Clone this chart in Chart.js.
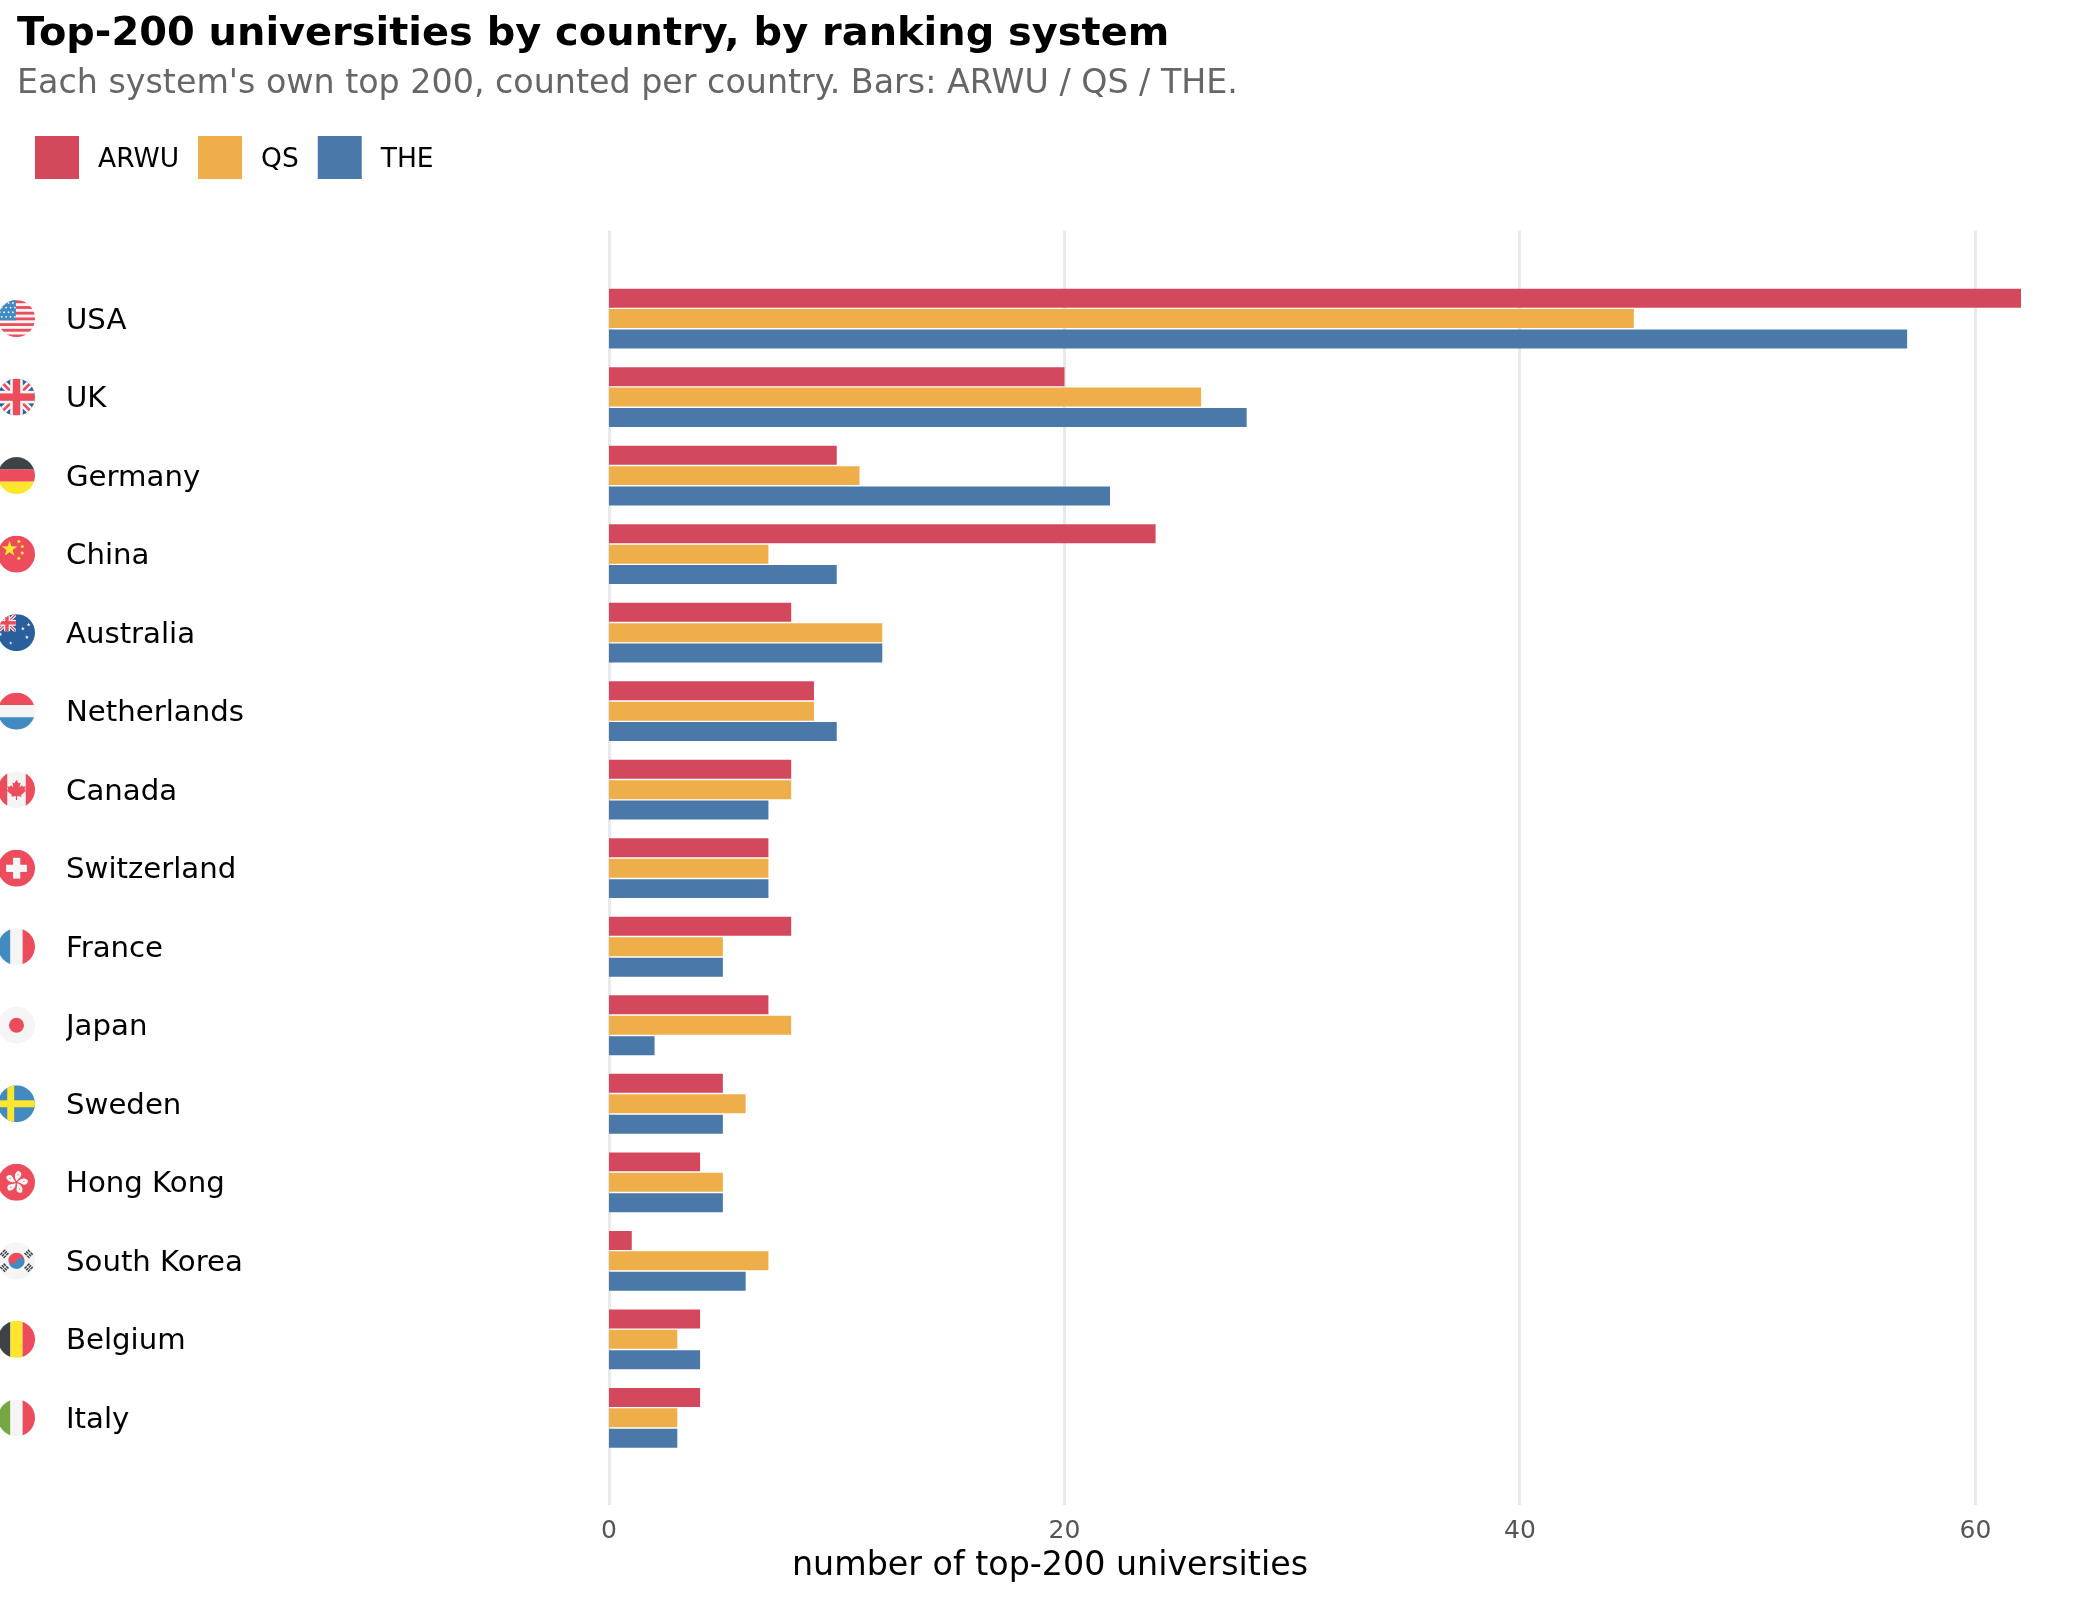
<!DOCTYPE html>
<html>
<head>
<meta charset="utf-8">
<style>html,body{margin:0;padding:0;background:#fff}canvas{display:block}</style>
<script src="https://cdn.jsdelivr.net/npm/chart.js@4/dist/chart.umd.min.js"></script>
</head>
<body>
<canvas id="c" width="2100" height="1600"></canvas>
<script>
const countries = ["USA","UK","Germany","China","Australia","Netherlands","Canada","Switzerland","France","Japan","Sweden","Hong Kong","South Korea","Belgium","Italy"];
const arwu = [62,20,10,24,8,9,8,7,8,7,5,4,1,4,4];
const qs   = [45,26,11,7,12,9,8,7,5,8,6,5,7,3,3];
const the  = [57,28,22,10,12,10,7,7,5,2,5,5,6,4,3];
const seriesNames = ["ARWU","QS","THE"];
const seriesColors = ["#d3485d","#eeae4a","#4978a9"];
const xTickStep = 20;

const FONT = '"DejaVu Sans", sans-serif';
Chart.defaults.font.family = FONT;
Chart.defaults.animation = false;

// Flag palette
const RED="#ed4c5c", WHT="#f5f5f5", BLU="#428bc1", NAVY="#2a5f9e", DRK="#3e4347", YEL="#ffe62e", GRN="#75a843";

// Helpers working in a 64×64 unit box
function rect(g,c,x,y,w,h){g.fillStyle=c;g.fillRect(x,y,w,h);}
function dot(g,c,x,y,r){g.fillStyle=c;g.beginPath();g.arc(x,y,r,0,Math.PI*2);g.fill();}
function star(g,c,x,y,R,rot=-Math.PI/2){
  g.fillStyle=c;g.beginPath();
  for(let i=0;i<10;i++){const a=rot+i*Math.PI/5,r=i%2?R*0.4:R;g[i?'lineTo':'moveTo'](x+r*Math.cos(a),y+r*Math.sin(a));}
  g.closePath();g.fill();
}
function hBands(g,a,b,c){rect(g,a,0,0,64,21.5);rect(g,b,0,21.5,64,21);rect(g,c,0,42.5,64,21.5);}
function vBands(g,a,b,c){rect(g,a,0,0,21.5,64);rect(g,b,21.5,0,21,64);rect(g,c,42.5,0,21.5,64);}
function jack(g,w,h){
  // Union-style cross fitted to a w×h box
  g.save();g.beginPath();g.rect(0,0,w,h);g.clip();
  rect(g,NAVY,0,0,w,h);
  const t=Math.min(w,h);
  g.lineCap="butt";
  g.strokeStyle=WHT;g.lineWidth=t*0.2;
  g.beginPath();g.moveTo(0,0);g.lineTo(w,h);g.moveTo(w,0);g.lineTo(0,h);g.stroke();
  g.strokeStyle=RED;g.lineWidth=t*0.07;
  g.beginPath();g.moveTo(0,0);g.lineTo(w,h);g.moveTo(w,0);g.lineTo(0,h);g.stroke();
  rect(g,WHT,w/2-t*0.17,0,t*0.34,h);rect(g,WHT,0,h/2-t*0.17,w,t*0.34);
  rect(g,RED,w/2-t*0.1,0,t*0.2,h);rect(g,RED,0,h/2-t*0.1,w,t*0.2);
  g.restore();
}
function trigram(g,x,y,rot){
  g.save();g.translate(x,y);g.rotate(rot);
  for(const o of [-4,0,4]) rect(g,DRK,-6,o-1.3,12,2.6);
  rect(g,WHT,-0.6,-6,1.2,12);
  g.restore();
}

const flags = {
  USA(g){
    rect(g,WHT,0,0,64,64);
    for(let i=0;i<7;i++) rect(g,RED,0,i*9.85+0.5,64,4.9);
    rect(g,BLU,0,0,31,35);
    for(let r=0;r<4;r++)for(let k=0;k<4;k++) dot(g,WHT,3+k*7.6+(r%2?3.5:0),5+r*8,1.6);
  },
  UK(g){jack(g,64,64);},
  Germany(g){hBands(g,DRK,RED,YEL);},
  China(g){
    rect(g,RED,0,0,64,64);
    star(g,YEL,20,23,14);
    dot(g,YEL,36,10,2.6);dot(g,YEL,42,19,2.6);dot(g,YEL,42,30,2.6);dot(g,YEL,36,39,2.6);
  },
  Australia(g){
    rect(g,NAVY,0,0,64,64);
    jack(g,31,30);
    star(g,WHT,43,25,3.6);star(g,WHT,53,18,3.6);star(g,WHT,50,40,3.6);star(g,WHT,4,35,3.6);star(g,WHT,22,50,3);
  },
  Netherlands(g){hBands(g,RED,WHT,BLU);},
  Canada(g){
    rect(g,WHT,0,0,64,64);rect(g,RED,0,0,16,64);rect(g,RED,48,0,16,64);
    g.fillStyle=RED;g.beginPath();
    [[32,15],[35.5,21],[39,19.5],[37.5,28],[42,24],[43,27],[48,26],[46,32],[49,33.5],[40,41],[41,44],[33,43],[33,50],[31,50],[31,43],[23,44],[24,41],[15,33.5],[18,32],[16,26],[21,27],[22,24],[26.5,28],[25,19.5],[28.5,21]]
      .forEach((p,i)=>g[i?'lineTo':'moveTo'](p[0],p[1]));
    g.closePath();g.fill();
  },
  Switzerland(g){
    rect(g,RED,0,0,64,64);
    rect(g,WHT,26,14,12.5,36);rect(g,WHT,14,26,36,12.5);
  },
  France(g){vBands(g,BLU,WHT,RED);},
  Japan(g){rect(g,WHT,0,0,64,64);dot(g,RED,32,32,13);},
  Sweden(g){
    rect(g,BLU,0,0,64,64);
    rect(g,YEL,16,0,12,64);rect(g,YEL,0,26,64,12);
  },
  "Hong Kong"(g){
    rect(g,RED,0,0,64,64);
    for(let i=0;i<5;i++){
      g.save();g.translate(32,32);g.rotate(i*Math.PI*2/5+0.2);
      g.fillStyle=WHT;g.beginPath();
      g.moveTo(0,-2);g.bezierCurveTo(-6,-7,-7,-15,-1,-20);
      g.bezierCurveTo(5,-19,7,-15,5,-11);g.bezierCurveTo(3,-8,2,-7,0,-2);
      g.fill();
      dot(g,RED,0,-13,1);
      g.restore();
    }
  },
  "South Korea"(g){
    rect(g,WHT,0,0,64,64);
    const th=Math.PI*0.1, dx=7*Math.cos(th), dy=7*Math.sin(th);
    g.fillStyle=RED;g.beginPath();g.arc(32,32,14,Math.PI+th,th);g.fill();
    g.fillStyle=BLU;g.beginPath();g.arc(32,32,14,th,Math.PI+th);g.fill();
    dot(g,RED,32-dx,32-dy,7);dot(g,BLU,32+dx,32+dy,7);
    trigram(g,11,20,-Math.PI/4);trigram(g,53,20,Math.PI/4);
    trigram(g,11,44,Math.PI/4);trigram(g,53,44,-Math.PI/4);
  },
  Belgium(g){vBands(g,DRK,YEL,RED);},
  Italy(g){vBands(g,GRN,WHT,RED);}
};

// Country roundels next to each row of the category axis
const flagPlugin = {
  id:"flagRoundels",
  afterDraw(chart){
    const g=chart.ctx, y=chart.scales.y, r=18.5, cx=16.5;
    countries.forEach((name,i)=>{
      const cy=y.getPixelForValue(i);
      g.save();
      g.translate(cx-r,cy-r);g.scale(r/32,r/32);
      g.beginPath();g.arc(32,32,32,0,Math.PI*2);g.clip();
      flags[name](g);
      g.restore();
    });
  }
};

// Swatches with a wide gap before each series name
const keyPlugin = {
  id:"seriesKey",
  afterDraw(chart){
    const g=chart.ctx, gap=19, bw=44, bh=43, top=136;
    let x=35;
    g.save();
    g.font='26.5px '+FONT;g.textBaseline="middle";g.textAlign="left";
    chart.data.datasets.forEach(ds=>{
      g.fillStyle=ds.backgroundColor;g.fillRect(x,top,bw,bh);
      x+=bw+gap;
      g.fillStyle="#000";g.fillText(ds.label,x,top+bh/2+3);
      x+=g.measureText(ds.label).width+gap;
    });
    g.restore();
  }
};

// Category names start in their own column, clear of the roundels;
// the value-axis title is centred on the whole canvas rather than the plot
const axisPlacementPlugin = {
  id:"axisPlacement",
  afterLayout(chart){
    chart.scales.y.left=66;
    chart.scales.x.left=0;
    chart.scales.x.right=chart.width;
  }
};

const toPoints = vals => vals.map((v,i)=>({x:v,y:i}));

new Chart(document.getElementById("c"),{
  type:"bar",
  data:{
    datasets:[arwu,qs,the].map((vals,k)=>({
      label:seriesNames[k],
      data:toPoints(vals),
      backgroundColor:seriesColors[k],
      borderWidth:0,
      categoryPercentage:0.78,
      barPercentage:0.93
    }))
  },
  plugins:[axisPlacementPlugin,flagPlugin,keyPlugin],
  options:{
    responsive:false,
    indexAxis:"y",
    layout:{padding:{left:17,right:79,top:0,bottom:0}},
    plugins:{
      legend:{display:false},
      tooltip:{enabled:false},
      title:{
        display:true,align:"start",
        text:"Top-200 universities by country, by ranking system",
        color:"#000",
        font:{size:39.9,weight:"bold",family:FONT},
        padding:{top:10.5,bottom:0}
      },
      subtitle:{
        display:true,align:"start",
        text:"Each system's own top 200, counted per country. Bars: ARWU / QS / THE.",
        color:"#666",
        font:{size:33.3,family:FONT},
        padding:{top:5.5,bottom:126.8}
      }
    },
    scales:{
      x:{
        type:"linear",position:"bottom",min:0,max:62,
        // Bars start on the zero value itself, overlapping its grid line
        afterFit(s){s.height=95;s.getLineWidthForValue=()=>0;},
        grid:{color:"#e9e9e9",lineWidth:3,drawTicks:false},
        border:{display:false},
        ticks:{stepSize:xTickStep,includeBounds:false,color:"#555",font:{size:25},padding:11.5,maxRotation:0},
        title:{display:true,text:"number of top-200 universities",color:"#000",font:{size:33.3},padding:{top:0,bottom:13.5}}
      },
      y:{
        type:"linear",position:"left",reverse:true,min:-1.12,max:15.11,offset:false,
        afterFit(s){s.width=592;},
        afterBuildTicks(s){s.ticks=countries.map((_,i)=>({value:i}));},
        grid:{display:false,drawTicks:false},
        border:{display:false},
        ticks:{autoSkip:false,color:"#000",font:{size:29.2},crossAlign:"far",labelOffset:2.5,callback:v=>countries[v]}
      }
    }
  }
});
</script>
</body>
</html>
